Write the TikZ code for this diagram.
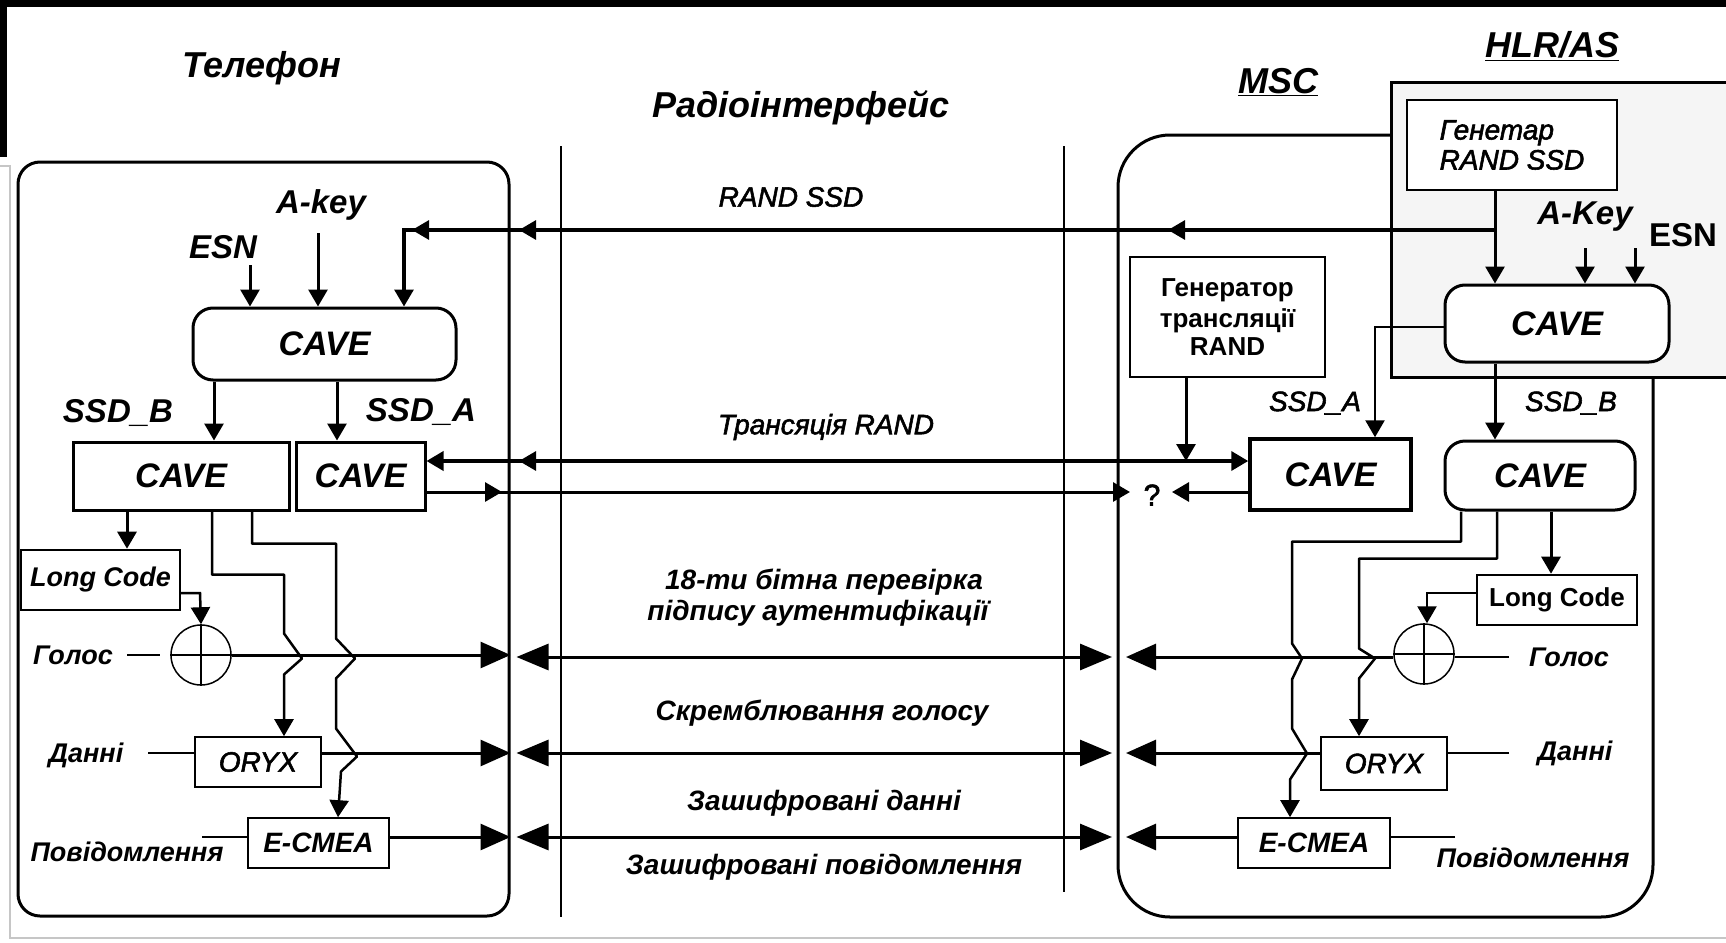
\documentclass[tikz,border=0pt]{standalone}
\usepackage{fontspec}
\setmainfont{Liberation Sans}
\newfontfamily\medfont[FakeBold=2]{Liberation Sans}
\usetikzlibrary{arrows.meta,calc}
\newcommand\myfs[1]{\fontsize{#1}{#1}\selectfont}
\begin{document}
\begin{tikzpicture}[x=1pt,y=-1pt,
  ln/.style={line width=3pt},
  thn/.style={line width=2.5pt},
  arr/.style={-{Triangle[length=17pt,width=19pt]}},
  big/.style={-{Triangle[length=30pt,width=26pt]}},
  bigboth/.style={{Triangle[length=32pt,width=26pt]}-{Triangle[length=32pt,width=26pt]}},
  box/.style={draw, line width=3pt, fill=white, inner sep=0pt, font=\myfs{34}\bfseries\itshape},
  rbox/.style={box, rounded corners=20pt},
  sbox/.style={draw, line width=1.6pt, fill=white, inner sep=0pt, font=\myfs{28}\medfont\itshape},
  lab/.style={inner sep=0pt, font=\myfs{33}\bfseries\itshape},
  slab/.style={inner sep=0pt, font=\myfs{27}\bfseries\itshape},
  ilab/.style={inner sep=0pt, font=\myfs{28}\medfont\itshape},
  mlab/.style={inner sep=0pt, font=\myfs{28}\bfseries\itshape},
  title/.style={inner sep=0pt, font=\myfs{36}\bfseries\itshape},
  xor/.style={draw, circle, line width=1.5pt, minimum size=60pt, inner sep=0pt, fill=white},
]
\useasboundingbox (0,0) rectangle (1726,942);
% frame artefacts
\fill[black] (0,0) rectangle (1726,7);
\fill[black] (0,0) rectangle (7,157);
\draw[gray!45, line width=2.5pt] (0,166) -- (10,166) -- (10,938) -- (1726,938);

% HLR/AS area
\fill[gray!8] (1391,82) rectangle (1728,377);
\draw[line width=3pt] (1728,82) -- (1391,82) -- (1391,377) -- (1728,377);
% MSC area
\draw[line width=3pt, rounded corners=52pt] (1391,135) -- (1118,135) -- (1118,917) -- (1653,917) -- (1653,377);
\coordinate (mscW) at (1118,540);

% phone box
\node[draw, line width=3pt, rounded corners=22pt, minimum width=491pt, minimum height=754pt, inner sep=0pt] (phone) at (263.5,539) {};

% radio interface lines
\coordinate (r1t) at (561,146); \coordinate (r1b) at (561,917);
\coordinate (r2t) at (1064,146); \coordinate (r2b) at (1064,892);
\draw[line width=2pt] (r1t) -- (r1b);
\draw[line width=2pt] (r2t) -- (r2b);

% titles
\node[title] (t1) at (262,68) {Телефон};
\node[title] (t2) at (801,108) {Радіоінтерфейс};
\node[title] (t3) at (1278,82) {\underline{MSC}};
\node[title] (t4) at (1552,46) {\underline{HLR/AS}};

% phone nodes
\node[rbox, minimum width=263pt, minimum height=72pt] (cave0) at (324.5,344) {CAVE};
\node[box, minimum width=216pt, minimum height=68pt] (caveL) at (181,476) {CAVE};
\node[box, minimum width=129pt, minimum height=68pt] (caveS) at (360.5,476) {CAVE};
\node[sbox, line width=2.6pt, font=\myfs{27}\bfseries\itshape, minimum width=159pt, minimum height=60pt] (lcL) at (100.5,580) {Long Code};
\node[xor] (xorL) at (201,655) {};
\node[sbox, minimum width=126pt, minimum height=50pt] (oryxL) at (258,762) {ORYX};
\node[sbox, font=\myfs{28}\bfseries\itshape, minimum width=141pt, minimum height=50pt] (ecmeaL) at (318.5,843) {E-CMEA};

\node[lab] (akL) at (321,205) {A-key};
\node[lab] (esnL) at (223,247) {ESN};
\node[lab] (ssdbL) at (118,413) {SSD\_B};
\node[lab] (ssdaL) at (421,412) {SSD\_A};
\node[slab] (golL) at (73,655) {Голос};
\node[slab] (danL) at (86,755) {Данні};
\node[slab] (povL) at (127,852) {Повідомлення};

% network nodes
\node[sbox, font=\myfs{28}\medfont\itshape, minimum width=210pt, minimum height=90pt, align=left] (genH) at (1512,145) {Генетар\\[2pt]RAND SSD};
\node[sbox, font=\myfs{26}\bfseries, minimum width=195pt, minimum height=120pt, align=center] (genT) at (1227.5,317) {Генератор\\[5pt]трансляції\\[2pt]RAND};
\node[rbox, minimum width=224pt, minimum height=77pt] (caveH) at (1557,323.5) {CAVE};
\node[box, line width=3.5pt, minimum width=161pt, minimum height=71pt] (caveM) at (1330.5,474.5) {CAVE};
\node[rbox, minimum width=190pt, minimum height=69pt] (caveR) at (1540,475.5) {CAVE};
\node[sbox, line width=2.6pt, font=\myfs{26}\bfseries, minimum width=160pt, minimum height=50pt] (lcR) at (1557,600) {Long Code};
\node[xor] (xorR) at (1424,654) {};
\node[sbox, minimum width=126pt, minimum height=53pt] (oryxR) at (1384,763.5) {ORYX};
\node[sbox, font=\myfs{28}\bfseries\itshape, minimum width=152pt, minimum height=50pt] (ecmeaR) at (1314,843) {E-CMEA};

\node[lab] (akR) at (1585,217) {A-Key};
\node[lab, font=\myfs{33}\bfseries] (esnR) at (1683,235) {ESN};
\node[ilab] (ssdaR) at (1315,403) {SSD\_A};
\node[ilab] (ssdbR) at (1571,403) {SSD\_B};
\node[inner sep=0pt, font=\myfs{30}\medfont] (q) at (1152,495) {?};

\node[slab] (golR) at (1569,657) {Голос};
\node[slab] (danR) at (1575,753) {Данні};
\node[slab] (povR) at (1533,858) {Повідомлення};

% radio labels
\node[ilab] (lrs) at (791,197) {RAND SSD};
\node[ilab] (ltr) at (826,427) {Трансяція RAND};
\node[mlab] (l18) at (824,582) {18-ти бітна перевірка};
\node[mlab] (lps) at (818,613) {підпису аутентифікації};
\node[mlab] (lsk) at (822,713) {Скремблювання голосу};
\node[mlab] (lzd) at (824,803) {Зашифровані данні};
\node[mlab] (lzp) at (824,867) {Зашифровані повідомлення};

% ---- connectors: top of phone
\coordinate (xE) at (250,0); \coordinate (xA) at (318,0); \coordinate (xR) at (404,0);
\coordinate (eT) at (250,265); \coordinate (aT) at (318,233);
\draw[ln,arr] (eT) -- (cave0.north -| xE);
\draw[ln,arr] (aT) -- (cave0.north -| xA);
\coordinate (jH) at (1495,230);
\coordinate (cR) at (404,230);
\draw[ln,arr] (genH.south -| jH) -- (caveH.north -| jH);
\draw[line width=3.2pt,arr] (jH) -- (cR) -- (cave0.north -| xR);
\coordinate (h1) at (1168,230); \coordinate (h2) at (519,230); \coordinate (h3) at (412,230);
\draw[ln,arr] ($(h1)+(6,0)$) -- (h1);
\draw[ln,arr] ($(h2)+(6,0)$) -- (h2);
\draw[ln,arr] ($(h3)+(6,0)$) -- (h3);

\coordinate (xB) at (214,0); \coordinate (xS) at (337,0);
\draw[ln,arr] (cave0.south -| xB) -- (caveL.north -| xB);
\draw[ln,arr] (cave0.south -| xS) -- (caveS.north -| xS);

% Трансяція RAND
\coordinate (jT) at (1186,461);
\draw[ln,arr] (genT.south -| jT) -- (jT);
\draw[line width=3.6pt,arr] (jT) -- (caveM.west |- jT);
\draw[line width=3.6pt,arr] (jT) -- (caveS.east |- jT);
\coordinate (h4) at (519,461);
\draw[ln,arr] ($(h4)+(6,0)$) -- (h4);

% ? line
\coordinate (qy) at (0,492);
\coordinate (h5) at (502,492); \coordinate (h6) at (1130,492); \coordinate (h7) at (1172,492);
\draw[ln,arr] (caveS.east |- qy) -- (h6);
\draw[ln,arr] ($(h5)+(-6,0)$) -- (h5);
\draw[ln,arr] (caveM.west |- qy) -- (h7);

% ---- phone lower
\coordinate (xLC) at (127,0);
\draw[ln,arr] (caveL.south -| xLC) -- (lcL.north -| xLC);
\coordinate (lcLe) at (180,593); \coordinate (xX) at (200,593);
\draw[thn,arr] (lcLe) -- (xX) -- (xorL.north);
\draw[xor] (xorL.north) -- (xorL.south) (xorL.west) -- (xorL.east);
\coordinate (gL0) at (127,655); \coordinate (gL1) at (160,655);
\draw[thn] (gL0) -- (gL1);
\draw[ln,big] (xorL.east) -- (phone.east |- xorL.east);
\coordinate (dL0) at (148,753);
\draw[thn] (dL0) -- (oryxL.west |- dL0);
\draw[ln,big] (oryxL.east |- dL0) -- (phone.east |- dL0);
\coordinate (pL0) at (202,837);
\draw[thn] (pL0) -- (ecmeaL.west |- pL0);
\draw[ln,big] (ecmeaL.east |- pL0) -- (phone.east |- pL0);

\coordinate (l1) at (212,0); \coordinate (l1b) at (284,0);
\draw[thn,arr,line join=round] (caveL.south -| l1) -- ++(0,63) -- ++(72,0) -- ++(0,59) -- ++(18,25) -- ++(-18,16) -- (oryxL.north -| l1b);
\coordinate (l2) at (252,0); \coordinate (l2b) at (338,0);
\draw[thn,arr,line join=round] (caveL.south -| l2) -- ++(0,32) -- ++(84,0) -- ++(0,95) -- ++(19,20) -- ++(-19,20) -- ++(0,50) -- ++(21,28) -- ++(-16,15) -- (ecmeaL.north -| l2b);

% ---- radio double arrows
\coordinate (rg) at (0,657); \coordinate (rd) at (0,753); \coordinate (rp) at (0,837);
\draw[ln,bigboth] ($(phone.east |- rg)+(6,0)$) -- ($(mscW |- rg)+(-6,0)$);
\draw[ln,bigboth] ($(phone.east |- rd)+(6,0)$) -- ($(mscW |- rd)+(-6,0)$);
\draw[ln,bigboth] ($(phone.east |- rp)+(6,0)$) -- ($(mscW |- rp)+(-6,0)$);

% ---- network upper
\coordinate (xAk) at (1585,0); \coordinate (xEs) at (1635,0);
\coordinate (akT) at (1585,248); \coordinate (esT) at (1635,248);
\draw[ln,arr] (akT) -- (caveH.north -| xAk);
\draw[ln,arr] (esT) -- (caveH.north -| xEs);
\coordinate (sA) at (1375,327);
\draw[thn,arr] (caveH.west |- sA) -- (sA) -- (caveM.north -| sA);
\coordinate (xSB) at (1495,0);
\draw[ln,arr] (caveH.south -| xSB) -- (caveR.north -| xSB);

% ---- network lower
\coordinate (xLR) at (1551,0);
\draw[ln,arr] (caveR.south -| xLR) -- (lcR.north -| xLR);
\coordinate (lcRw) at (1477,593); \coordinate (xXR) at (1427,593);
\draw[thn,arr] (lcRw) -- (xXR) -- (xorR.north -| xXR);
\draw[xor] (xorR.north) -- (xorR.south) (xorR.west) -- (xorR.east);
\coordinate (gR0) at (1509,657);
\draw[thn] (gR0) -- (xorR.east |- gR0);
\draw[ln,big] (xorR.west |- gR0) -- ($(mscW |- gR0)+(8,0)$);
\coordinate (dR0) at (1509,753);
\draw[thn] (dR0) -- (oryxR.east |- dR0);
\draw[ln,big] (oryxR.west |- dR0) -- ($(mscW |- dR0)+(8,0)$);
\coordinate (pR0) at (1455,837);
\draw[thn] (pR0) -- (ecmeaR.east |- pR0);
\draw[ln,big] (ecmeaR.west |- pR0) -- ($(mscW |- pR0)+(8,0)$);

\coordinate (rA) at (1461,0); \coordinate (rAb) at (1290,0);
\draw[thn,arr,line join=round] (caveR.south -| rA) -- ++(0,30) -- ++(-169,0) -- ++(0,102) -- ++(10,15) -- ++(-10,21) -- ++(0,49) -- ++(15,25) -- ++(-17,26) -- (ecmeaR.north -| rAb);
\coordinate (rB) at (1497,0); \coordinate (rBb) at (1359,0);
\draw[thn,arr,line join=round] (caveR.south -| rB) -- ++(0,47) -- ++(-138,0) -- ++(0,90) -- ++(16,10) -- ++(-16,20) -- (oryxR.north -| rBb);
\end{tikzpicture}
\end{document}
